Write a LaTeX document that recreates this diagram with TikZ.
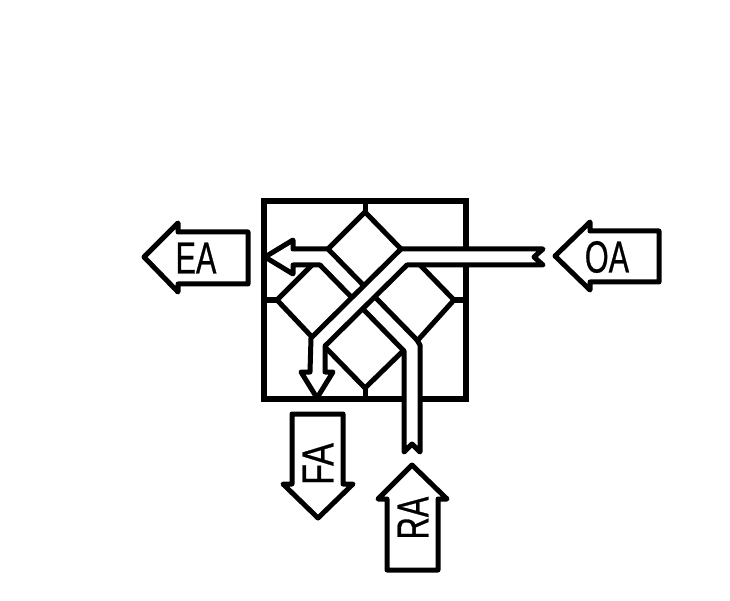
\documentclass[tikz,border=0pt]{standalone}
\usepackage{fontspec}
\newfontfamily\lab[FakeStretch=0.68,FakeBold=0.6]{Liberation Sans}
\newfontfamily\labw[FakeStretch=0.76,FakeBold=0.6]{Liberation Sans}
\tikzset{
  ln/.style={draw=black,line width=5pt,line join=round,line cap=round},
  duct/.style={ln,fill=white},
  frame/.style={draw=black,line width=6pt,line join=miter},
  lbl/.style={inner sep=0pt,font=\lab\fontsize{45}{45}\selectfont},
  lblw/.style={inner sep=0pt,font=\labw\fontsize{45}{45}\selectfont}
}
\begin{document}
\begin{tikzpicture}[x=1pt,y=-1pt]
\useasboundingbox (0,0) rectangle (730,601);
% housing
\draw[frame] (264,201) rectangle (466,399);
% stubs
\draw[ln,line cap=butt] (365,201) -- (365,212) (264,300) -- (277,300) (454,300) -- (466,300) (365,388) -- (365,399);
% heat exchanger plates
\draw[ln] (328,249) -- (365,212) -- (401,249);
\draw[ln] (313,264) -- (277,300) -- (312,337);
\draw[ln] (420,265) -- (454,300) -- (418,340);
\draw[ln] (325,347) -- (365,388) -- (404,350);
% exhaust duct RA -> EA
\draw[duct] (265,257) -- (293,240) -- (293,249) -- (328,249) -- (417,340) -- (420,345) -- (420,452) -- (412,444) -- (404,452) -- (404,351) -- (320,265) -- (293,265) -- (293,274) -- cycle;
% supply duct OA -> FA
\draw[duct] (543,249) -- (401,249) -- (311,338) -- (310,372) -- (301,372) -- (317,398) -- (333,372) -- (325,372) -- (325,346) -- (407,265) -- (543,265) -- (534,257) -- cycle;
% labelled arrows
\draw[ln] (144,257) -- (178,223) -- (178,232) -- (248,232) -- (248,284) -- (178,284) -- (178,292) -- cycle;
\node[lbl] (ea) at (196,258) {EA};
\draw[ln] (555,256) -- (590,222) -- (590,231) -- (659,231) -- (659,282) -- (590,282) -- (590,290) -- cycle;
\node[lbl] (oa) at (607,257) {OA};
\draw[ln] (292,414) -- (343,414) -- (343,484) -- (353,484) -- (318,518) -- (283,484) -- (292,484) -- cycle;
\node[lblw,rotate=90] (fa) at (318,464) {FA};
\draw[ln] (412,465) -- (447,499) -- (438,499) -- (438,570) -- (387,570) -- (387,499) -- (378,499) -- cycle;
\node[lbl,rotate=90] (ra) at (413,518) {RA};
\end{tikzpicture}
\end{document}
